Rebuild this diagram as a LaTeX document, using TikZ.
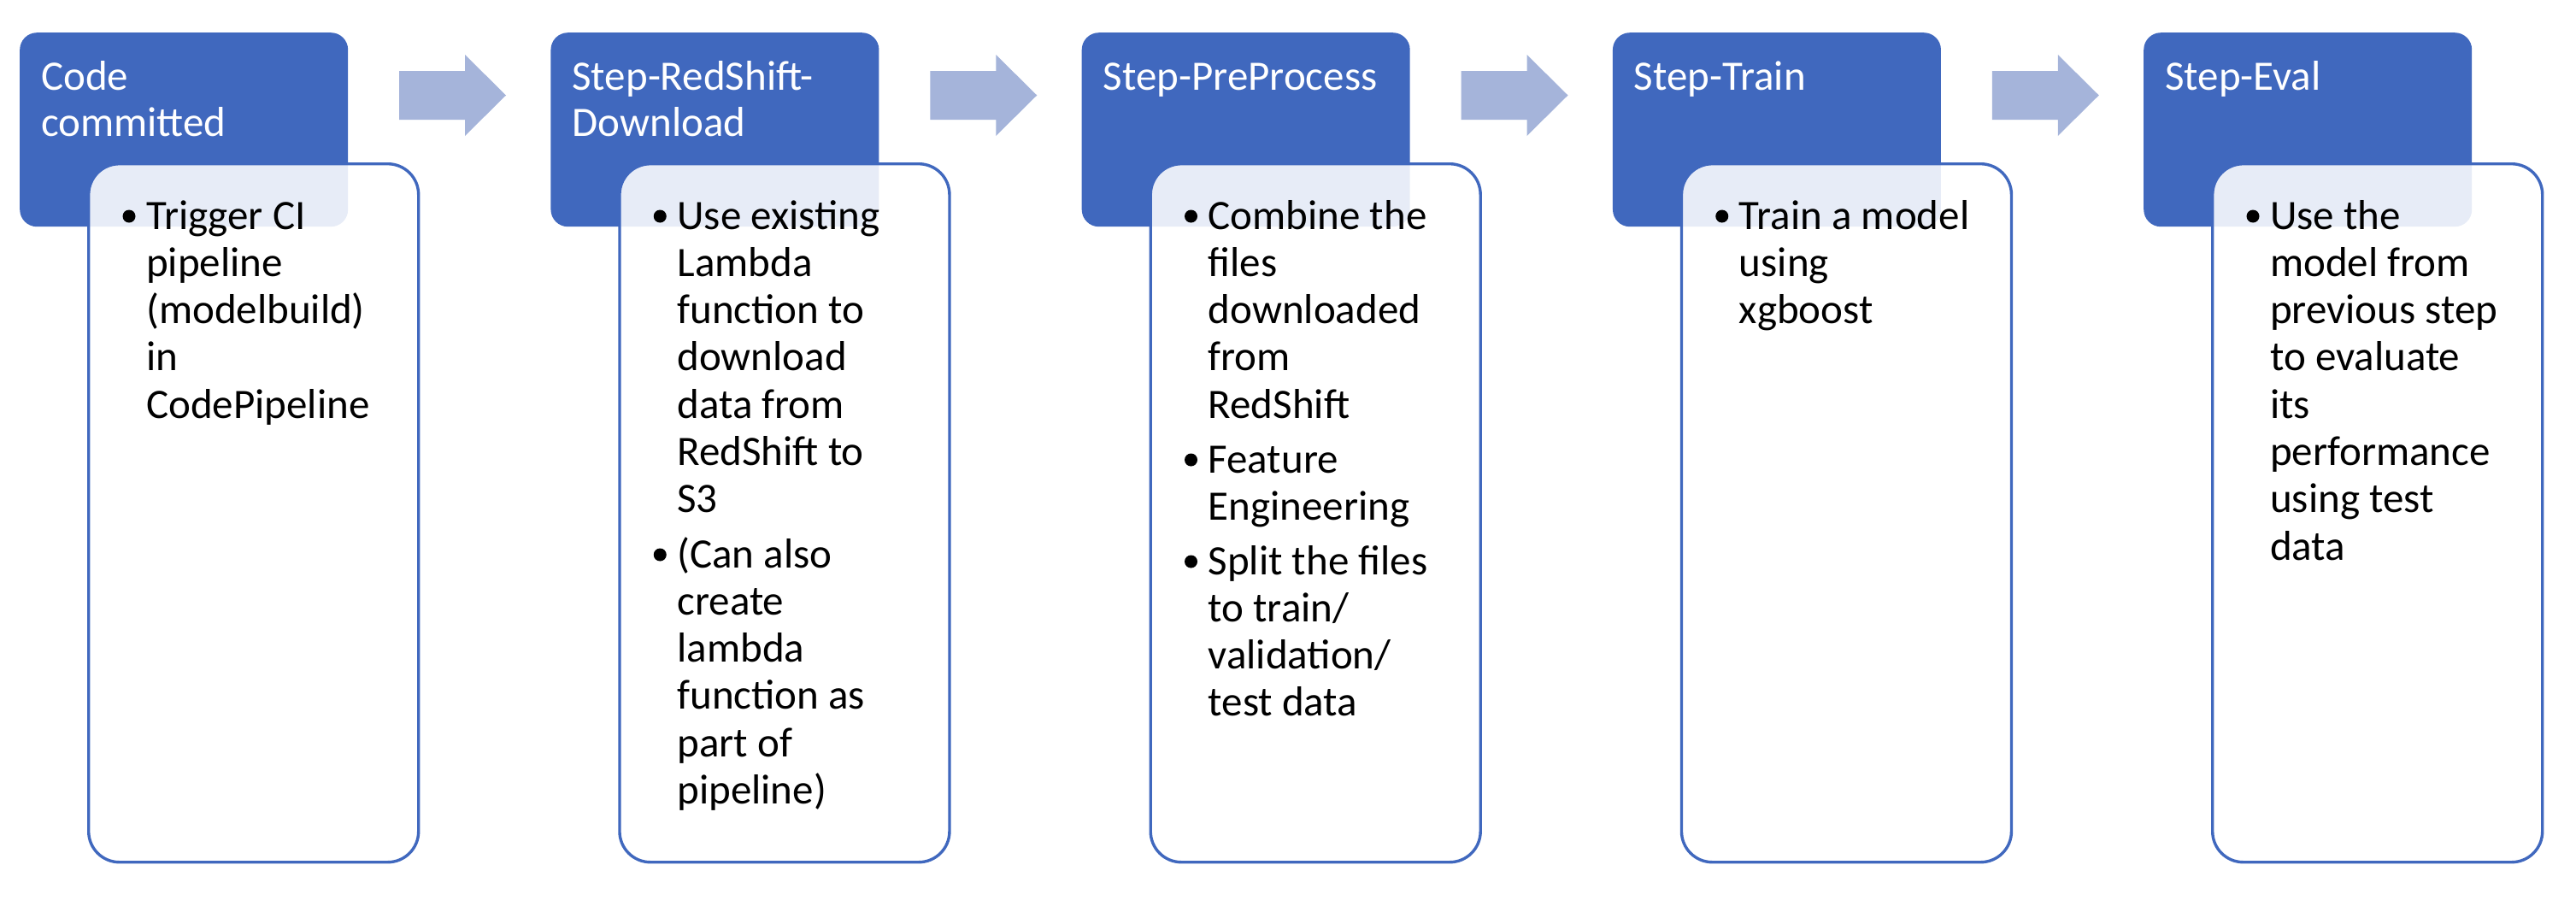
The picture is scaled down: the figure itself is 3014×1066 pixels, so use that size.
\documentclass[tikz,border=0pt]{standalone}
\usepackage{fontspec}
\setmainfont{Carlito}
\definecolor{hblue}{HTML}{4068BE}
\definecolor{arrfill}{HTML}{A5B4DA}
\newcommand\mkbul[4]{%
  \node[bdot] (#1dot) at ({#2+128},{#3-15}) {};
  \foreach \t [count=\j] in {#4}
    \node[btxt] (#1l\j) at ({#2+148},{#3+55.3*(\j-1)}) {\t};
}
\begin{document}
\begin{tikzpicture}[x=1pt,y=-1pt,
  headbox/.style={fill=hblue, draw=none, rounded corners=20pt, minimum width=384pt,
    minimum height=227pt, anchor=north west, inner sep=0pt},
  bodybox/.style={fill=white, fill opacity=0.88, draw=hblue, draw opacity=1,
    line width=3.4pt, rounded corners=36pt, minimum width=386pt,
    minimum height=817pt, anchor=north west, inner sep=0pt},
  htxt/.style={text=white, font=\fontsize{49}{55}\selectfont, anchor=base west, inner sep=0pt},
  btxt/.style={text=black, font=\fontsize{49}{55}\selectfont, anchor=base west, inner sep=0pt},
  bdot/.style={circle, fill=black, draw=none, inner sep=0pt, minimum size=15pt},
  blockarrow/.style={fill=arrfill, draw=none}]
\useasboundingbox (0,0) rectangle (3014,1066);

% block arrows
\foreach \i in {0,...,3}{
  \pgfmathsetmacro\xa{23+621.25*\i}
  \fill[blockarrow] ({\xa+444},83) -- ({\xa+521},83) -- ({\xa+521},64) -- ({\xa+569},111.5)
     -- ({\xa+521},159) -- ({\xa+521},140) -- ({\xa+444},140) -- cycle;
}

% column 1
\def\xa{23}
\node[headbox] (h1) at (\xa,38) {};
\node[bodybox] (b1) at ({\xa+79},190) {};
\node[htxt] (h1a) at ({\xa+25},105) {Code};
\node[htxt] (h1b) at ({\xa+25},159) {committed};
\mkbul{c1a}{\xa}{268}{Trigger CI,pipeline,{(modelbuild)},in,CodePipeline}

% column 2
\def\xa{644.25}
\node[headbox] (h2) at (\xa,38) {};
\node[bodybox] (b2) at ({\xa+79},190) {};
\node[htxt] (h2a) at ({\xa+25},105) {Step-RedShift-};
\node[htxt] (h2b) at ({\xa+25},159) {Download};
\mkbul{c2a}{\xa}{268}{Use existing,Lambda,function to,download,data from,RedShift to,S3}
\mkbul{c2b}{\xa}{664}{{(Can also},create,lambda,function as,part of,{pipeline)}}

% column 3
\def\xa{1265.5}
\node[headbox] (h3) at (\xa,38) {};
\node[bodybox] (b3) at ({\xa+79},190) {};
\node[htxt] (h3a) at ({\xa+25},105) {Step-PreProcess};
\mkbul{c3a}{\xa}{268}{Combine the,files,downloaded,from,RedShift}
\mkbul{c3b}{\xa}{553}{Feature,Engineering}
\mkbul{c3c}{\xa}{672}{Split the files,to train/,validation/,test data}

% column 4
\def\xa{1886.75}
\node[headbox] (h4) at (\xa,38) {};
\node[bodybox] (b4) at ({\xa+79},190) {};
\node[htxt] (h4a) at ({\xa+25},105) {Step-Train};
\mkbul{c4a}{\xa}{268}{Train a model,using,xgboost}

% column 5
\def\xa{2508}
\node[headbox] (h5) at (\xa,38) {};
\node[bodybox] (b5) at ({\xa+79},190) {};
\node[htxt] (h5a) at ({\xa+25},105) {Step-Eval};
\mkbul{c5a}{\xa}{268}{Use the,model from,previous step,to evaluate,its,performance,using test,data}
\end{tikzpicture}
\end{document}
